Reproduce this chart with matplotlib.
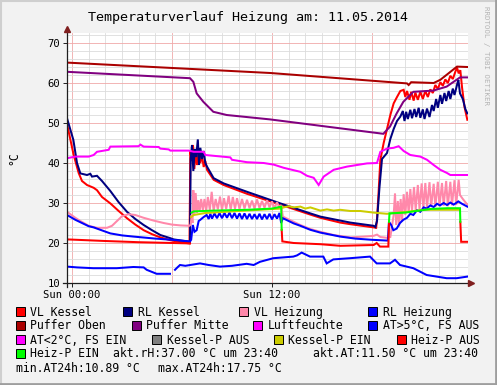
import numpy as np
import matplotlib
matplotlib.use("Agg")
import matplotlib.pyplot as plt
from matplotlib.patches import Rectangle
from matplotlib.lines import Line2D

nan = np.nan

# -------------------------------------------------------
# Daten: (Stunde ab Sun 00:00, Wert)
# -------------------------------------------------------
vl_kessel = [(-0.3, 49.8), (0.1, 42.0), (0.4, 37.5), (0.6, 35.5), (0.9, 34.5), (1.3, 33.8), (1.5, 33.2),
             (1.8, 31.5), (2.3, 29.9), (2.8, 28.0), (3.3, 26.2), (3.8, 24.6), (4.3, 23.2), (4.8, 22.2),
             (5.3, 21.4), (5.9, 20.7), (6.5, 20.2), (7.05, 19.9),
             (7.1, 43.0), (7.18, 40.5), (7.26, 44.5), (7.34, 38.5), (7.42, 43.5), (7.5, 39.5), (7.6, 42.5),
             (7.7, 40.0), (7.8, 42.0), (7.9, 39.0), (8.0, 40.5), (8.1, 38.3), (8.5, 35.8), (9.1, 34.5),
             (10.5, 32.3), (12.5, 29.6), (14.3, 27.1), (14.9, 26.3), (16.1, 25.1), (16.7, 24.7), (18.1, 23.9),
             (18.25, 23.8), (18.3, 26.0), (18.4, 33.0), (18.5, 40.8), (18.7, 45.0), (18.9, 48.5), (19.1, 52.0),
             (19.3, 54.9), (19.5, 56.5), (19.7, 58.0), (19.9, 58.3), (20.0, 56.5), (20.1, 58.0), (20.25, 55.8),
             (20.35, 57.8), (20.5, 55.6), (20.6, 57.6), (20.75, 55.8), (20.9, 57.8), (21.05, 56.0), (21.2, 58.0),
             (21.35, 56.5), (21.5, 58.4), (21.65, 57.5), (21.8, 59.5), (21.95, 58.5), (22.1, 60.2), (22.25, 59.3),
             (22.4, 60.9), (22.55, 60.0), (22.7, 61.8), (22.85, 61.0), (23.0, 62.8), (23.1, 63.9), (23.2, 62.4),
             (23.3, 63.2), (23.4, 59.0), (23.55, 54.0), (23.72, 50.8)]

rl_kessel = [(-0.3, 51.2), (0.08, 45.8), (0.3, 40.0), (0.5, 37.4), (0.9, 37.0), (1.1, 37.3), (1.2, 36.6),
             (1.5, 36.8), (1.8, 35.5), (2.3, 33.0), (2.8, 30.2), (3.3, 27.8), (3.8, 26.0), (4.3, 24.5),
             (4.8, 23.2), (5.3, 22.0), (5.9, 21.2), (6.1, 20.9), (7.08, 20.3),
             (7.12, 41.0), (7.2, 44.5), (7.28, 38.0), (7.36, 43.5), (7.45, 41.5), (7.55, 45.9), (7.62, 39.5),
             (7.7, 43.8), (7.8, 41.0), (7.9, 43.0), (8.0, 40.0), (8.1, 39.1), (8.5, 36.2), (9.1, 34.9),
             (10.5, 32.8), (12.5, 29.9), (14.3, 27.4), (14.9, 26.6), (16.7, 25.1), (18.1, 24.3), (18.2, 24.0),
             (18.3, 25.5), (18.45, 34.0), (18.6, 41.0), (18.9, 42.5), (19.1, 46.0), (19.3, 48.5), (19.5, 50.5),
             (19.7, 51.6), (19.85, 53.0), (19.95, 50.5), (20.05, 52.8), (20.15, 51.0), (20.3, 53.3), (20.4, 51.2),
             (20.55, 53.5), (20.65, 51.5), (20.8, 53.8), (20.9, 51.3), (21.05, 53.4), (21.15, 51.0), (21.3, 53.6),
             (21.45, 51.5), (21.6, 54.5), (21.7, 53.0), (21.85, 56.0), (21.95, 53.8), (22.1, 57.0), (22.2, 54.8),
             (22.35, 57.5), (22.45, 55.5), (22.6, 58.0), (22.7, 56.0), (22.85, 58.6), (22.95, 57.0), (23.1, 59.5),
             (23.18, 60.8), (23.28, 57.4), (23.45, 56.0), (23.6, 53.5), (23.72, 52.4)]

vl_heizung = [(-0.3, 27.8), (0.2, 26.3), (0.5, 25.5), (1.0, 24.3), (1.5, 23.8), (2.1, 23.8), (2.4, 24.3),
              (2.7, 25.5), (3.0, 26.7), (3.4, 27.2), (3.8, 27.0), (4.3, 26.3), (4.9, 25.6), (5.5, 25.0),
              (6.0, 24.6), (6.5, 24.4), (7.05, 24.3),
              (7.12, 24.6), (7.18, 27.0), (7.23, 25.0), (7.28, 33.2), (7.35, 27.3), (7.42, 32.5), (7.5, 27.5),
              (7.58, 30.7), (7.66, 28.0), (7.75, 31.0), (7.85, 28.2), (7.95, 31.0), (8.05, 28.0), (8.15, 31.5),
              (8.27, 28.3), (8.38, 32.8), (8.5, 28.0), (8.62, 31.0), (8.75, 28.4), (8.88, 31.6), (9.0, 28.2),
              (9.12, 31.2), (9.25, 28.5), (9.4, 31.8), (9.52, 28.3), (9.65, 31.5), (9.78, 28.5), (9.9, 31.2),
              (10.05, 28.5), (10.2, 31.0), (10.35, 28.6), (10.5, 30.8), (10.65, 28.7), (10.8, 30.6), (10.95, 28.6),
              (11.1, 30.9), (11.25, 28.7), (11.4, 30.5), (11.55, 28.8), (11.7, 30.7), (11.85, 28.9), (12.0, 30.4),
              (12.15, 28.7), (12.3, 30.2), (12.45, 28.8), (12.55, 29.5), (12.65, 26.6),
              (13.3, 25.3), (13.7, 24.5), (14.3, 23.5), (14.9, 22.8), (15.7, 22.0), (16.7, 21.4), (17.5, 21.6),
              (18.1, 21.8), (18.3, 22.1), (18.5, 21.5), (18.9, 21.3), (19.1, 21.5), (19.3, 27.0),
              (19.38, 32.4), (19.45, 24.5), (19.55, 30.5), (19.62, 24.1), (19.72, 31.0), (19.8, 25.5), (19.9, 32.2),
              (20.0, 27.0), (20.1, 32.8), (20.2, 27.5), (20.3, 33.5), (20.4, 28.0), (20.52, 34.0), (20.62, 28.3),
              (20.75, 34.5), (20.85, 28.5), (20.98, 34.9), (21.08, 28.6), (21.2, 35.0), (21.3, 28.8), (21.45, 35.2),
              (21.55, 29.0), (21.7, 34.8), (21.8, 29.0), (21.95, 35.3), (22.05, 29.2), (22.2, 35.0), (22.3, 29.3),
              (22.45, 35.5), (22.55, 29.2), (22.7, 35.3), (22.8, 29.4), (22.95, 35.7), (23.05, 29.5), (23.2, 35.8),
              (23.28, 32.0), (23.45, 31.0), (23.72, 29.6)]

rl_heizung = [(-0.3, 27.0), (0.2, 25.8), (0.5, 25.2), (1.0, 24.2), (1.3, 23.9), (2.3, 22.4), (3.0, 21.9),
              (3.7, 21.6), (5.0, 21.1), (6.0, 20.8), (7.08, 20.4),
              (7.15, 20.8), (7.25, 24.5), (7.35, 22.8), (7.48, 23.2), (7.6, 25.5), (7.7, 25.8), (7.9, 26.5),
              (8.08, 27.0), (8.2, 26.0), (8.3, 27.3), (8.4, 26.1), (8.55, 27.4), (8.7, 26.2), (8.85, 27.5),
              (9.0, 26.2), (9.15, 27.5), (9.3, 26.3), (9.45, 27.6), (9.6, 26.2), (9.75, 27.5), (9.9, 26.1),
              (10.05, 27.4), (10.2, 26.0), (10.35, 27.4), (10.5, 26.0), (10.65, 27.3), (10.8, 26.0), (10.95, 27.2),
              (11.1, 26.0), (11.25, 27.3), (11.4, 25.9), (11.55, 27.2), (11.7, 26.0), (11.85, 27.3), (12.0, 25.9),
              (12.15, 27.2), (12.3, 26.1), (12.45, 27.5), (12.55, 25.0), (12.65, 26.2),
              (13.3, 24.9), (13.7, 24.3), (14.3, 23.3), (14.9, 22.6), (16.1, 21.6), (17.0, 21.1), (18.0, 20.8),
              (18.95, 20.6), (19.02, 25.3), (19.15, 24.5), (19.28, 23.2), (19.48, 23.6), (19.68, 25.0),
              (19.88, 25.8), (20.1, 26.3), (20.3, 27.3), (20.48, 27.0), (20.7, 28.2), (20.9, 27.8), (21.1, 28.9),
              (21.28, 28.6), (21.5, 29.4), (21.7, 29.0), (21.9, 29.8), (22.08, 29.4), (22.3, 30.0), (22.5, 29.5),
              (22.7, 30.1), (22.9, 29.6), (23.18, 30.4), (23.4, 29.8), (23.72, 29.1)]

puffer_oben = [(-0.3, 65.1), (11.9, 62.5), (20.1, 59.9), (20.2, 59.5), (20.35, 60.2), (21.7, 60.0),
               (22.1, 60.8), (23.1, 64.1), (23.72, 64.0)]

puffer_mitte = [(-0.3, 62.8), (7.08, 61.2), (7.28, 60.3), (7.48, 57.4), (7.88, 55.3), (8.48, 52.8),
                (9.28, 52.0), (11.88, 50.9), (18.68, 47.3), (19.08, 49.1), (19.48, 52.4), (19.88, 55.3),
                (20.48, 57.8), (21.68, 58.1), (22.48, 59.1), (23.28, 61.4), (23.72, 61.4)]

luftfeuchte = [(-0.3, 41.2), (0.2, 41.6), (1.0, 41.6), (1.3, 42.0), (1.5, 42.8), (2.2, 43.3), (2.3, 44.1),
               (4.0, 44.2), (4.1, 44.6), (4.3, 44.1), (5.2, 44.0), (5.3, 43.6), (5.8, 43.4), (5.9, 43.1),
               (7.0, 43.1), (7.3, 42.8), (7.9, 42.8), (8.0, 42.0), (9.0, 41.6), (9.5, 41.4), (9.6, 40.8),
               (10.5, 40.2), (11.5, 40.0), (12.1, 39.6), (12.7, 38.8), (13.7, 37.8), (14.1, 36.8), (14.5, 36.3),
               (14.8, 34.5), (15.1, 36.6), (15.7, 38.3), (16.5, 39.1), (17.7, 39.9), (18.3, 40.0), (18.5, 42.8),
               (18.9, 43.6), (19.3, 43.8), (19.6, 44.2), (19.9, 43.0), (20.3, 42.0), (20.9, 41.6), (21.3, 40.8),
               (21.7, 39.5), (22.1, 38.3), (22.5, 37.5), (22.7, 37.0), (23.72, 37.0)]

aussen_temp = [(-0.3, 14.1), (0.3, 13.9), (1.28, 13.7), (2.68, 13.7), (3.68, 14.0), (4.3, 13.9), (4.48, 13.3),
               (5.08, 12.3), (5.88, 12.3), (6.0, nan), (6.18, 13.3), (6.3, 13.8), (6.48, 14.5), (6.8, 14.3),
               (7.68, 14.9), (8.2, 14.5), (8.88, 14.1), (9.6, 14.3), (10.48, 14.8), (10.9, 14.5), (11.28, 15.3),
               (12.08, 16.2), (13.28, 16.6), (13.5, 16.9), (13.78, 17.6), (14.28, 16.6), (15.08, 16.6),
               (15.28, 14.9), (15.68, 15.9), (16.68, 16.2), (17.88, 16.6), (18.28, 14.9), (19.08, 14.9),
               (19.38, 15.8), (19.68, 14.5), (20.48, 13.7), (21.28, 12.0), (22.48, 11.2), (23.08, 11.2),
               (23.72, 11.6)]

aussen_kalt = []     # AT<2°C -> heute keine Werte
kessel_p_aus = []    # nicht sichtbar

kessel_p_ein = [(7.15, 26.5), (7.3, 27.0), (8.0, 27.5), (10.0, 28.0), (12.5, 28.6), (12.7, 28.9), (13.0, 29.2),
                (13.3, 28.9), (13.7, 29.1), (14.0, 28.6), (14.3, 28.9), (14.9, 28.1), (15.3, 28.4), (15.7, 28.1),
                (16.1, 28.3), (16.7, 28.0), (17.3, 28.0), (18.1, 27.6), (18.9, 27.3), (19.1, 27.4), (20.1, 27.8),
                (21.1, 28.3), (23.28, 28.3)]

heiz_p_aus = [(-0.3, 20.9), (2.0, 20.5), (4.0, 20.2), (7.08, 19.9), (7.1, nan), (12.58, 23.3), (12.62, 20.4),
              (13.3, 20.0), (14.9, 19.7), (16.1, 19.3), (18.1, 19.5), (18.28, 20.0), (18.48, 19.1), (18.98, 19.1),
              (19.02, 25.3), (19.04, nan), (23.3, 25.3), (23.35, 20.3), (23.72, 20.3)]

heiz_p_ein = [(7.18, 27.6), (7.3, 27.9), (8.5, 28.1), (10.5, 28.3), (12.0, 28.6), (12.55, 29.1), (12.58, 23.3),
              (12.6, nan), (19.02, 25.3), (19.05, 27.4), (20.0, 27.6), (21.0, 28.2), (21.5, 28.5), (22.5, 28.7),
              (23.28, 28.7), (23.3, 25.3)]

akt_rh, akt_at = 37.00, 11.50
min_at, max_at = 10.89, 17.75

# Reihenfolge wie im rrdtool-Graph (Legende + Zeichnen)
serien = [
    ("VL Kessel", "#FF0000", vl_kessel),
    ("RL Kessel", "#000080", rl_kessel),
    ("VL Heizung", "#FF88AA", vl_heizung),
    ("RL Heizung", "#0000FF", rl_heizung),
    ("Puffer Oben", "#AA0000", puffer_oben),
    ("Puffer Mitte", "#800080", puffer_mitte),
    ("Luftfeuchte", "#FF00FF", luftfeuchte),
    ("AT>5°C, FS AUS", "#0000FF", aussen_temp),
    ("AT<2°C, FS EIN", "#FF00FF", aussen_kalt),
    ("Kessel-P AUS", "#808080", kessel_p_aus),
    ("Kessel-P EIN", "#CCCC00", kessel_p_ein),
    ("Heiz-P AUS", "#FF0000", heiz_p_aus),
    ("Heiz-P EIN", "#00FF00", heiz_p_ein),
]

# -------------------------------------------------------
# Figur im rrdtool-Look
# -------------------------------------------------------
W, H = 497, 385
plt.rcParams["font.family"] = ["DejaVu Sans Mono", "DejaVu Sans"]
fig = plt.figure(figsize=(W / 100, H / 100), dpi=100, facecolor="#F2F2F2")

def fx(px):
    return px / W

def fy(py):
    return 1 - py / H

x0, x1, ytop, ybot = 67, 468, 33, 283
ax = fig.add_axes([fx(x0), fy(ybot), fx(x1) - fx(x0), fy(ytop) - fy(ybot)])
ax.set_facecolor("white")
ax.set_xlim(-0.3, 23.76)
ax.set_ylim(10, 72.5)

# Gitter
for h in range(0, 24):
    major = h % 6 == 0
    ax.axvline(h, color="#F0A8A8" if major else "#DCDCDC", lw=0.6, zorder=1)
for v in range(12, 73, 2):
    major = v % 10 == 0
    ax.axhline(v, color="#F0A8A8" if major else "#DCDCDC", lw=0.6, zorder=1)

for name, col, pts in serien:
    if not pts:
        continue
    arr = np.array(pts, dtype=float)
    ax.plot(arr[:, 0], arr[:, 1], color=col, lw=1.45, zorder=3, solid_joinstyle="miter")

for s in ax.spines.values():
    s.set_visible(False)

ax.set_xticks([0, 12])
ax.set_xticklabels(["Sun 00:00", "Sun 12:00"])
ax.set_yticks(range(10, 71, 10))
ax.tick_params(axis="both", length=3, width=0.7, color="#1F1F1F", labelsize=7.6, pad=2)
ax.tick_params(axis="x", pad=2)

# Achsen mit Pfeilen
axis_col, arrow_col = "#1F1F1F", "#801F1F"
fig.add_artist(Line2D([fx(67), fx(67)], [fy(287), fy(29)], color=axis_col, lw=0.9))
fig.add_artist(Line2D([fx(63), fx(471)], [fy(283), fy(283)], color=axis_col, lw=0.9))
fig.add_artist(Line2D([fx(67)], [fy(29)], marker="^", ms=4, color=arrow_col, ls="none"))
fig.add_artist(Line2D([fx(471)], [fy(283)], marker=">", ms=4, color=arrow_col, ls="none"))

fig.text(fx(13.5), fy(158), "°C", rotation=90, ha="center", va="center", fontsize=8.3)

fig.text(fx(248), fy(20.7), "Temperaturverlauf Heizung am: 11.05.2014",
         ha="center", va="baseline", fontsize=9.6)
fig.text(fx(486), fy(55), "RRDTOOL / TOBI OETIKER", rotation=270, ha="center", va="center",
         fontsize=5.3, color="#B4B4B4")

# Legende
row_base = [315.7, 329.3, 343.5, 357.0, 371.5]
legend_pos = [(0, 16), (0, 123.3), (0, 239.3), (0, 368.3),
              (1, 16), (1, 131.7), (1, 253.3), (1, 368.3),
              (2, 16), (2, 152.3), (2, 274), (2, 396.7),
              (3, 16)]
for (name, col, _), (row, sx) in zip(serien, legend_pos):
    b = row_base[row]
    fig.add_artist(Rectangle((fx(sx), fy(b + 0.7)), 9 / W, 9 / H, facecolor=col,
                             edgecolor="black", lw=0.7))
    fig.text(fx(sx + 14.5), fy(b), name, ha="left", va="baseline", fontsize=8.3)

fig.text(fx(113.3), fy(row_base[3]), f"akt.rH:{akt_rh:.2f} °C um 23:40", va="baseline", fontsize=8.3)
fig.text(fx(312.7), fy(row_base[3]), f"akt.AT:{akt_at:.2f} °C um 23:40", va="baseline", fontsize=8.3)
fig.text(fx(16), fy(row_base[4]), f"min.AT24h:{min_at:.2f} °C", va="baseline", fontsize=8.3)
fig.text(fx(158.3), fy(row_base[4]), f"max.AT24h:{max_at:.2f} °C", va="baseline", fontsize=8.3)

# 3D-Rahmen
fig.add_artist(Line2D([0, 1], [fy(0.5), fy(0.5)], color="#CFCFCF", lw=1.5))
fig.add_artist(Line2D([fx(0.5), fx(0.5)], [0, 1], color="#CFCFCF", lw=1.5))
fig.add_artist(Line2D([0, 1], [fy(384), fy(384)], color="#9E9E9E", lw=2))
fig.add_artist(Line2D([fx(496), fx(496)], [0, 1], color="#9E9E9E", lw=2))

fig.savefig("out.png", dpi=100, facecolor=fig.get_facecolor())
